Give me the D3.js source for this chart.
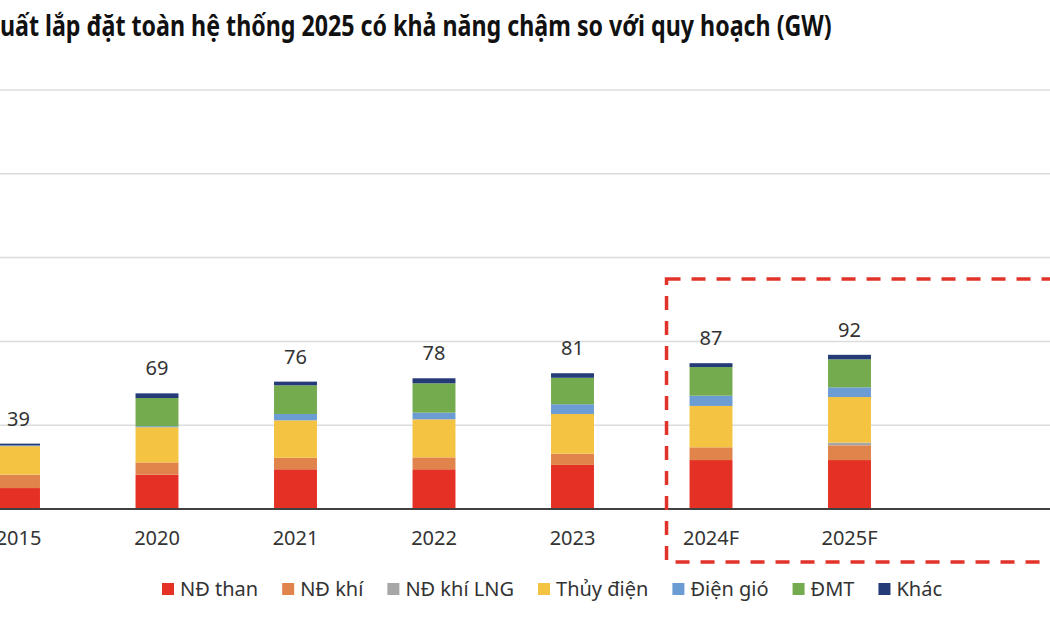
<!DOCTYPE html>
<html>
<head>
<meta charset="utf-8">
<script src="https://cdn.jsdelivr.net/npm/d3@7"></script>
<style>
  body { margin: 0; background: #fff; }
  svg { display: block; font-family: "Noto Sans", "Open Sans", sans-serif; }
</style>
</head>
<body>
<div id="chart"></div>
<script>
// Data (GW)
const categories = ["2015", "2020", "2021", "2022", "2023", "2024F", "2025F"];
const totals = [39, 69, 76, 78, 81, 87, 92];
const seriesNames = ["NĐ than", "NĐ khí", "NĐ khí LNG", "Thủy điện", "Điện gió", "ĐMT", "Khác"];
const coal = [12.5, 20.5, 23.7, 23.7, 26.3, 29.2, 29.2];
const gas = [8, 7.3, 6.9, 7.1, 6.7, 7.6, 8.8];
const lng = [0, 0, 0, 0, 0, 0, 1.6];
const hydro = [17, 21, 22.3, 22.7, 23.7, 24.7, 27.2];
const wind = [0.5, 0.6, 3.8, 4.0, 5.8, 6.1, 5.8];
const solar = [0, 16.8, 17.1, 17.5, 15.8, 17.1, 16.7];
const other = [1, 2.8, 2.2, 3.0, 2.7, 2.3, 2.7];
const yTicks = [0, 50, 100, 150, 200, 250];
const colors = ["#e53125", "#e0844b", "#a6a6a6", "#f4c342", "#6b9dd4", "#75ab4f", "#243b78"];
const title = "Công suất lắp đặt toàn hệ thống 2025 có khả năng chậm so với quy hoạch (GW)";

const width = 1050, height = 630;
const seriesValues = [coal, gas, lng, hydro, wind, solar, other];

// one row per year, for d3.stack
const rows = categories.map((c, i) => {
  const r = { year: c };
  seriesNames.forEach((s, j) => { r[s] = seriesValues[j][i]; });
  return r;
});
const stacked = d3.stack().keys(seriesNames)(rows);

const svg = d3.select("#chart").append("svg")
  .attr("width", width)
  .attr("height", height);

// The reference is a crop: first bar sits on the left edge
const step = 138.5;
const x = d3.scaleBand()
  .domain(categories)
  .range([18.5 - step / 2, 18.5 - step / 2 + step * categories.length])
  .paddingInner(0.69)
  .paddingOuter(0.345);

const y = d3.scaleLinear().domain([0, 250]).range([509, 90]);

const color = d3.scaleOrdinal().domain(seriesNames).range(colors);

// gridlines
svg.append("g")
  .selectAll("line")
  .data(yTicks.filter(d => d > 0))
  .join("line")
  .attr("x1", 0)
  .attr("x2", width)
  .attr("y1", d => y(d))
  .attr("y2", d => y(d))
  .attr("stroke", "#dcdcdc")
  .attr("stroke-width", 1.5);

// stacked bars
svg.append("g")
  .selectAll("g")
  .data(stacked)
  .join("g")
  .attr("fill", d => color(d.key))
  .selectAll("rect")
  .data(d => d)
  .join("rect")
  .attr("x", d => x(d.data.year))
  .attr("width", x.bandwidth())
  .attr("y", d => y(d[1]))
  .attr("height", d => y(d[0]) - y(d[1]));

// baseline
svg.append("line")
  .attr("x1", 0)
  .attr("x2", width)
  .attr("y1", y(0))
  .attr("y2", y(0))
  .attr("stroke", "#404040")
  .attr("stroke-width", 2);

// x axis labels
const xAxis = svg.append("g")
  .attr("transform", `translate(0,${y(0)})`)
  .call(d3.axisBottom(x).tickSize(0).tickPadding(22));
xAxis.select(".domain").remove();
xAxis.selectAll("text")
  .attr("font-family", "Noto Sans, sans-serif")
  .attr("font-size", 20)
  .attr("fill", "#333");

// total labels
svg.append("g")
  .selectAll("text")
  .data(totals)
  .join("text")
  .attr("x", (d, i) => x(categories[i]) + x.bandwidth() / 2)
  .attr("y", d => y(d) - 18)
  .attr("text-anchor", "middle")
  .attr("font-size", 20)
  .attr("fill", "#333")
  .text(d => d);

// forecast box (red dashed)
svg.append("rect")
  .attr("x", x("2024F") - 23)
  .attr("y", 279)
  .attr("width", 420)
  .attr("height", 283)
  .attr("fill", "none")
  .attr("stroke", "#e2332a")
  .attr("stroke-width", 3.5)
  .attr("stroke-dasharray", "14,11");

// title: cropped on the left like the reference
const t = svg.append("text")
  .attr("font-size", 27)
  .attr("font-weight", 700)
  .attr("fill", "#111")
  .text(title);
const pre = t.node().getSubStringLength(0, 6);
const full = t.node().getComputedTextLength();
const sx = 832 / (full - pre);
t.attr("transform", `translate(${-pre * sx},36) scale(${sx},1.08)`);

// legend
const legend = svg.append("g").attr("transform", "translate(162,589)");
let lx = 0;
seriesNames.forEach((s, i) => {
  const g = legend.append("g").attr("transform", `translate(${lx},0)`);
  g.append("rect")
    .attr("x", 0)
    .attr("y", -6)
    .attr("width", 12)
    .attr("height", 12)
    .attr("fill", colors[i]);
  const txt = g.append("text")
    .attr("x", 18)
    .attr("dy", "0.35em")
    .attr("font-size", 20)
    .attr("fill", "#333")
    .text(s);
  lx += 18 + txt.node().getComputedTextLength() + 24;
});
</script>
</body>
</html>
